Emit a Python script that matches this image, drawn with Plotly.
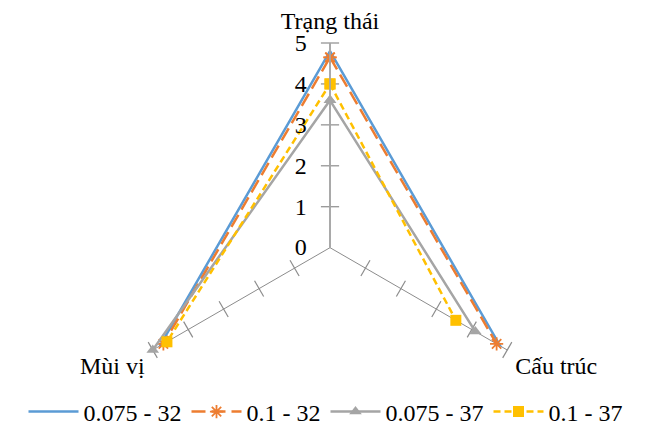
import plotly.graph_objects as go

# Sensory scores per attribute
categories = ["Trạng thái", "Cấu trúc", "Mùi vị"]
series_names = ["0.075 - 32", "0.1 - 32", "0.075 - 37", "0.1 - 37"]
s_0075_32 = [4.8, 4.8, 4.8]
s_01_32 = [4.65, 4.7, 4.7]
s_0075_37 = [3.6, 4.1, 5.0]
s_01_37 = [4.0, 3.55, 4.6]
radial_ticks = [0, 1, 2, 3, 4, 5]

series_values = [s_0075_32, s_01_32, s_0075_37, s_01_37]
colors = ["#5B9BD5", "#ED7D31", "#A5A5A5", "#FFC000"]
dashes = ["solid", "14px,6px", "solid", "7px,4px"]
symbols = [None, "asterisk-open", "triangle-up", "square"]

FONT = "Liberation Serif, serif"

fig = go.Figure()

# Small crossing tick marks on every spoke
spoke_gray = "#8C8C8C"
for i, cat in enumerate(categories):
    fig.add_trace(go.Scatterpolar(
        r=radial_ticks[1:],
        theta=[cat] * (len(radial_ticks) - 1),
        mode="markers",
        marker=dict(symbol="line-ns", size=13, angle=i * 120 + 90,
                    line=dict(color=spoke_gray, width=1.2)),
        showlegend=False,
        hoverinfo="skip",
    ))

for name, vals, col, dash, sym in zip(series_names, series_values, colors, dashes, symbols):
    trace = dict(
        r=vals + vals[:1],
        theta=categories + categories[:1],
        name=name,
        line=dict(color=col, width=2.5, dash=dash),
    )
    if sym is None:
        trace["mode"] = "lines"
    else:
        trace["mode"] = "lines+markers"
        if sym == "asterisk-open":
            trace["marker"] = dict(symbol=sym, size=11, color=col,
                                   line=dict(color=col, width=1.8))
        else:
            trace["marker"] = dict(symbol=sym, size=11, color=col,
                                   line=dict(color=col, width=0))
    fig.add_trace(go.Scatterpolar(**trace))

fig.update_layout(
    width=651,
    height=426,
    margin=dict(l=0, r=0, t=0, b=0, autoexpand=False),
    paper_bgcolor="white",
    plot_bgcolor="white",
    font=dict(family=FONT, size=24, color="black"),
    polar=dict(
        domain=dict(x=[125 / 651, 535 / 651], y=[76 / 426, 383 / 426]),
        sector=[-30, 210],
        bgcolor="white",
        angularaxis=dict(
            rotation=90,
            direction="clockwise",
            showline=False,
            showgrid=True,
            gridcolor=spoke_gray,
            gridwidth=1,
            ticks="outside",
            ticklen=4,
            tickcolor="rgba(0,0,0,0)",
            tickfont=dict(family=FONT, size=24, color="black"),
        ),
        radialaxis=dict(
            range=[0, 5],
            tickvals=radial_ticks,
            ticktext=[str(t) for t in radial_ticks],
            angle=90,
            side="counterclockwise",
            showgrid=False,
            showline=True,
            linecolor="#A6A6A6",
            linewidth=1.8,
            ticks="outside",
            ticklen=14,
            tickcolor="rgba(0,0,0,0)",
            tickangle=90,
            tickfont=dict(family=FONT, size=24, color="black"),
        ),
    ),
    legend=dict(
        orientation="h",
        x=0.5,
        xanchor="center",
        y=-0.02,
        yanchor="bottom",
        font=dict(family=FONT, size=24, color="black"),
        itemwidth=50,
        bgcolor="rgba(0,0,0,0)",
    ),
)

fig.write_html("out.html")
